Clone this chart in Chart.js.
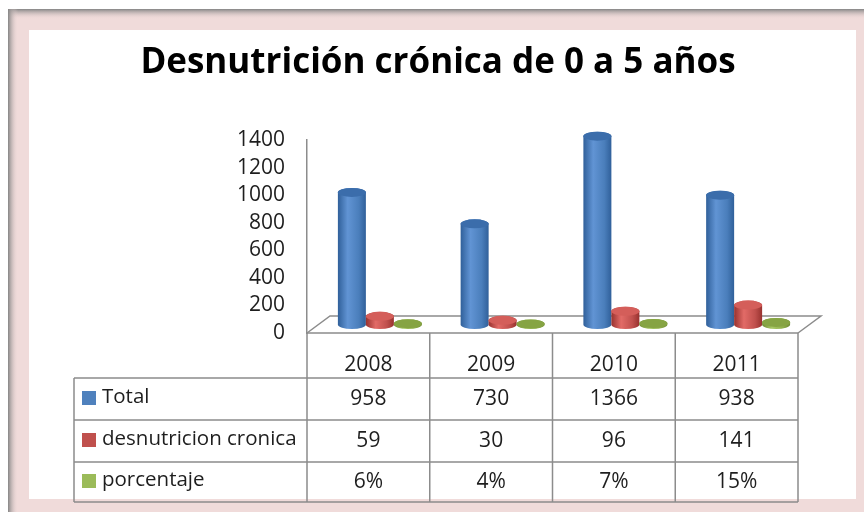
<!DOCTYPE html>
<html>
<head>
<meta charset="utf-8">
<script src="https://cdn.jsdelivr.net/npm/chart.js@4.4.0/dist/chart.umd.min.js"></script>
<style>
  html, body { margin: 0; padding: 0; background: #fff; }
  #wrap { width: 864px; height: 512px; }
</style>
</head>
<body>
<div id="wrap"><canvas id="chart" width="864" height="512"></canvas></div>
<script>
// ===== Data =====
const title = 'Desnutrición crónica de 0 a 5 años';
const years = ['2008', '2009', '2010', '2011'];
const seriesNames = ['Total', 'desnutricion cronica', 'porcentaje'];
const total = [958, 730, 1366, 938];
const desnutricion = [59, 30, 96, 141];
const porcentaje = [6, 4, 7, 15];
const yMax = 1400;
const yStep = 200;

// Color palette (body edge, body light, top)
const colors = {
  blue:  { dark: '#30609a', light: '#6194d4', mid: '#4a7ebb', top: '#3b6dab', key: '#4f81bd' },
  red:   { dark: '#98322f', light: '#e26b67', mid: '#c0504d', top: '#d45e5a', key: '#c0504d' },
  green: { dark: '#6f8a35', light: '#a8c865', mid: '#8fae4a', top: '#86a443', key: '#9bbb59' },
  line: '#8c8c8c',
  text: '#1e1e1e',
  pink: '#f0dbda'
};
const seriesColors = [colors.blue, colors.red, colors.green];

// 3D depth of the floor; bars sit in the middle of it
const depthX = 23, depthY = 17;
const font = "'Open Sans', 'Noto Sans', sans-serif";

// ===== Plugins =====
const framePlugin = {
  id: 'frame',
  beforeDraw(chart) {
    const ctx = chart.ctx;
    const W = chart.width, H = chart.height;
    ctx.save();
    ctx.fillStyle = '#ffffff';
    ctx.fillRect(0, 0, W, H);
    ctx.fillStyle = colors.pink;
    ctx.fillRect(8, 9, W - 8, H - 9);
    // shadow top
    let g = ctx.createLinearGradient(0, 9, 0, 19);
    g.addColorStop(0, '#858585');
    g.addColorStop(1, 'rgba(240,219,218,0)');
    ctx.fillStyle = g;
    ctx.fillRect(8, 9, W - 8, 10);
    // shadow left
    g = ctx.createLinearGradient(8, 0, 18, 0);
    g.addColorStop(0, '#858585');
    g.addColorStop(1, 'rgba(240,219,218,0)');
    ctx.fillStyle = g;
    ctx.fillRect(8, 9, 10, H - 9);
    // inner white panel
    ctx.fillStyle = '#ffffff';
    ctx.fillRect(29, 30, 827, 469);
    // title
    ctx.fillStyle = '#000';
    ctx.font = "bold 35px " + font;
    ctx.textAlign = 'center';
    ctx.textBaseline = 'alphabetic';
    ctx.fillText(title, 438, 73);
    ctx.restore();
  }
};

const floorPlugin = {
  id: 'floor',
  beforeDatasetsDraw(chart) {
    const ctx = chart.ctx;
    const area = chart.chartArea;
    const base = chart.scales.y.getPixelForValue(0);
    ctx.save();
    ctx.strokeStyle = colors.line;
    ctx.lineWidth = 1.5;
    ctx.beginPath();
    ctx.moveTo(area.left, base);
    ctx.lineTo(area.left + depthX, base - depthY);
    ctx.lineTo(area.right + depthX, base - depthY);
    ctx.lineTo(area.right, base);
    ctx.stroke();
    ctx.restore();
  }
};

function drawCylinder(ctx, cx, top, base, w, c) {
  const rx = w / 2, ry = 4.5;
  const g = ctx.createLinearGradient(cx - rx, 0, cx + rx, 0);
  g.addColorStop(0, c.dark);
  g.addColorStop(0.35, c.light);
  g.addColorStop(0.75, c.mid);
  g.addColorStop(1, c.dark);
  ctx.fillStyle = g;
  ctx.beginPath();
  ctx.moveTo(cx - rx, top);
  ctx.lineTo(cx - rx, base);
  ctx.ellipse(cx, base, rx, ry, 0, Math.PI, 0, true);
  ctx.lineTo(cx + rx, top);
  ctx.ellipse(cx, top, rx, ry, 0, 0, Math.PI, true);
  ctx.closePath();
  ctx.fill();
  ctx.fillStyle = c.top;
  ctx.beginPath();
  ctx.ellipse(cx, top, rx, ry, 0, 0, Math.PI * 2);
  ctx.fill();
}

const cylinderPlugin = {
  id: 'cylinders',
  afterDatasetsDraw(chart) {
    const ctx = chart.ctx;
    ctx.save();
    ctx.translate(depthX / 2, -depthY / 2);
    chart.data.datasets.forEach((ds, i) => {
      const meta = chart.getDatasetMeta(i);
      meta.data.forEach(bar => {
        const p = bar.getProps(['x', 'y', 'base', 'width'], true);
        drawCylinder(ctx, p.x, p.y, p.base, p.width, seriesColors[i]);
      });
    });
    ctx.restore();
  }
};

const tablePlugin = {
  id: 'dataTable',
  afterDraw(chart) {
    const ctx = chart.ctx;
    const area = chart.chartArea;
    const x = chart.scales.x;
    const top = chart.scales.y.getPixelForValue(0);
    const rows = [top, top + 45, top + 87, top + 129, top + 169];
    const tableLeft = 74;
    const colW = (area.right - area.left) / years.length;
    const rowValues = [
      total.map(String),
      desnutricion.map(String),
      porcentaje.map(v => v + '%')
    ];

    ctx.save();
    ctx.strokeStyle = colors.line;
    ctx.lineWidth = 1.5;
    ctx.beginPath();
    // horizontal lines
    ctx.moveTo(area.left, rows[0]);
    ctx.lineTo(area.right, rows[0]);
    for (let r = 1; r < rows.length; r++) {
      ctx.moveTo(tableLeft, rows[r]);
      ctx.lineTo(area.right, rows[r]);
    }
    // vertical lines
    for (let c = 0; c <= years.length; c++) {
      const cx = area.left + c * colW;
      ctx.moveTo(cx, rows[0]);
      ctx.lineTo(cx, rows[rows.length - 1]);
    }
    ctx.moveTo(tableLeft, rows[1]);
    ctx.lineTo(tableLeft, rows[rows.length - 1]);
    ctx.stroke();

    ctx.fillStyle = colors.text;
    ctx.font = '21px ' + font;
    ctx.textBaseline = 'middle';
    ctx.textAlign = 'center';
    years.forEach((yr, i) => {
      ctx.fillText(yr, x.getPixelForValue(i), rows[0] + 32);
    });
    rowValues.forEach((vals, r) => {
      const cy = (rows[r + 1] + rows[r + 2]) / 2;
      vals.forEach((v, i) => ctx.fillText(v, x.getPixelForValue(i), cy));
    });
    // row labels with colour keys
    ctx.textAlign = 'left';
    ctx.font = '20.5px ' + font;
    seriesNames.forEach((name, r) => {
      const cy = (rows[r + 1] + rows[r + 2]) / 2;
      ctx.fillStyle = seriesColors[r].key;
      ctx.fillRect(82, cy - 8, 14, 14);
      ctx.fillStyle = colors.text;
      ctx.fillText(name, 102, cy - 2);
    });
    ctx.restore();
  }
};

// ===== Chart =====
const ctx = document.getElementById('chart');
new Chart(ctx, {
  type: 'bar',
  data: {
    labels: years,
    datasets: [total, desnutricion, porcentaje].map((d, i) => ({
      label: seriesNames[i],
      data: d,
      backgroundColor: 'rgba(0,0,0,0)',
      borderWidth: 0,
      barPercentage: 1,
      categoryPercentage: 0.684
    }))
  },
  options: {
    responsive: false,
    animation: false,
    layout: { padding: { top: 140, bottom: 179, left: 29, right: 66 } },
    plugins: {
      legend: { display: false },
      title: { display: false },
      tooltip: { enabled: false }
    },
    scales: {
      x: { display: false },
      y: {
        min: 0,
        max: yMax,
        afterFit(scale) { scale.width = 278; },
        grid: { display: false, drawTicks: false },
        border: { display: true, color: colors.line, width: 1.5 },
        ticks: {
          stepSize: yStep,
          autoSkip: false,
          padding: 22,
          color: colors.text,
          font: { family: font, size: 21, lineHeight: 1 },
          callback: v => String(v)
        }
      }
    }
  },
  plugins: [framePlugin, floorPlugin, cylinderPlugin, tablePlugin]
});
</script>
</body>
</html>
